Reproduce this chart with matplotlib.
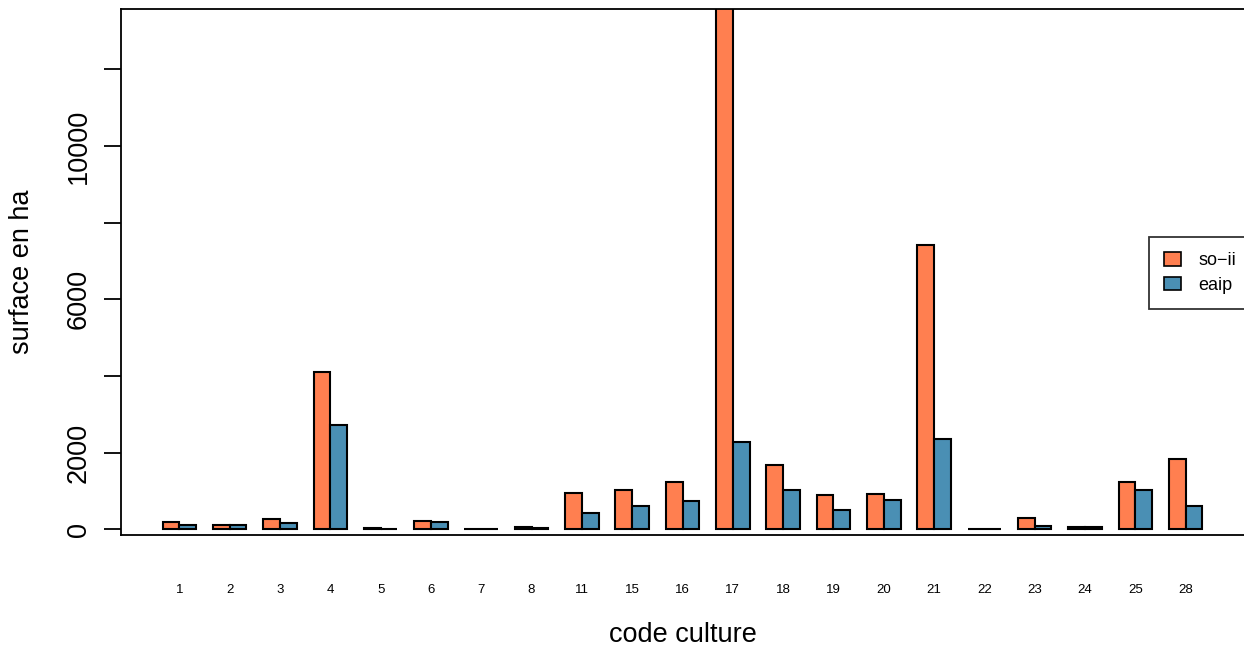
import matplotlib
matplotlib.use("Agg")
import matplotlib.pyplot as plt
import numpy as np
from matplotlib.patches import Patch

plt.rcParams['font.family'] = ['Liberation Sans', 'DejaVu Sans']

categories = ["1", "2", "3", "4", "5", "6", "7", "8", "11", "15", "16", "17",
              "18", "19", "20", "21", "22", "23", "24", "25", "28"]
so_ii = [190, 105, 270, 4100, 45, 225, 10, 70, 935, 1030, 1245, 13600,
         1665, 905, 915, 7425, 10, 305, 60, 1245, 1840]
eaip = [100, 100, 165, 2730, 20, 200, 5, 40, 420, 600, 730, 2290,
        1035, 500, 775, 2345, 5, 80, 55, 1030, 600]
series_names = ["so\u2212ii", "eaip"]
yticks = [0, 2000, 4000, 6000, 8000, 10000, 12000]
ytick_labels = ["0", "2000", "", "6000", "", "10000", ""]

col_so = "#FF7F50"
col_ea = "#4A8FB4"

W, H = 1244, 649
fig = plt.figure(figsize=(W / 100, H / 100), dpi=100)
left, right, top, bottom = 121, 1244, 9, 535
ax = fig.add_axes([left / W, 1 - bottom / H, (right - left) / W, (bottom - top) / H])

n = len(categories)
# R barplot beside=TRUE, space=c(0,1): group i spans [3i+1, 3i+3]
x_left = np.arange(n) * 3 + 1.5
x_right = x_left + 1
centers = x_left + 0.5

ax.bar(x_left, so_ii, width=1, color=col_so, edgecolor="black", linewidth=1.5, zorder=2)
ax.bar(x_right, eaip, width=1, color=col_ea, edgecolor="black", linewidth=1.5, zorder=2)

ax.set_xlim(-1.48, 65.48)
ax.set_ylim(-149, 13574)

ax.spines['right'].set_visible(False)
for s in ['left', 'top', 'bottom']:
    ax.spines[s].set_linewidth(1.3)
    ax.spines[s].set_zorder(3)

ax.set_yticks(yticks)
ax.set_yticklabels(ytick_labels, rotation=90, va='center', fontsize=19.5)
ax.tick_params(axis='y', length=12, width=1.3, pad=9)

ax.set_xticks(centers)
ax.set_xticklabels(categories, fontsize=9.5)
ax.tick_params(axis='x', length=0, pad=35)

fig.text((left + right) / 2 / W, 1 - 635 / H, "code culture", ha='center', va='center', fontsize=19.5)
fig.text(22 / W, 1 - 272 / H, "surface en ha", ha='center', va='center', rotation=90, fontsize=19.5)

handles = [Patch(facecolor=col_so, edgecolor='black', linewidth=1.2),
           Patch(facecolor=col_ea, edgecolor='black', linewidth=1.2)]
leg = fig.legend(handles, series_names, loc='upper left',
                 bbox_to_anchor=(1149 / W, 1 - 237 / H), fontsize=13,
                 frameon=True, fancybox=False, edgecolor='black',
                 handlelength=0.9, handleheight=0.75, handletextpad=1.0,
                 borderpad=0.85, labelspacing=0.4, borderaxespad=0)
leg.get_frame().set_linewidth(1.3)

fig.savefig("out.png", dpi=100)
